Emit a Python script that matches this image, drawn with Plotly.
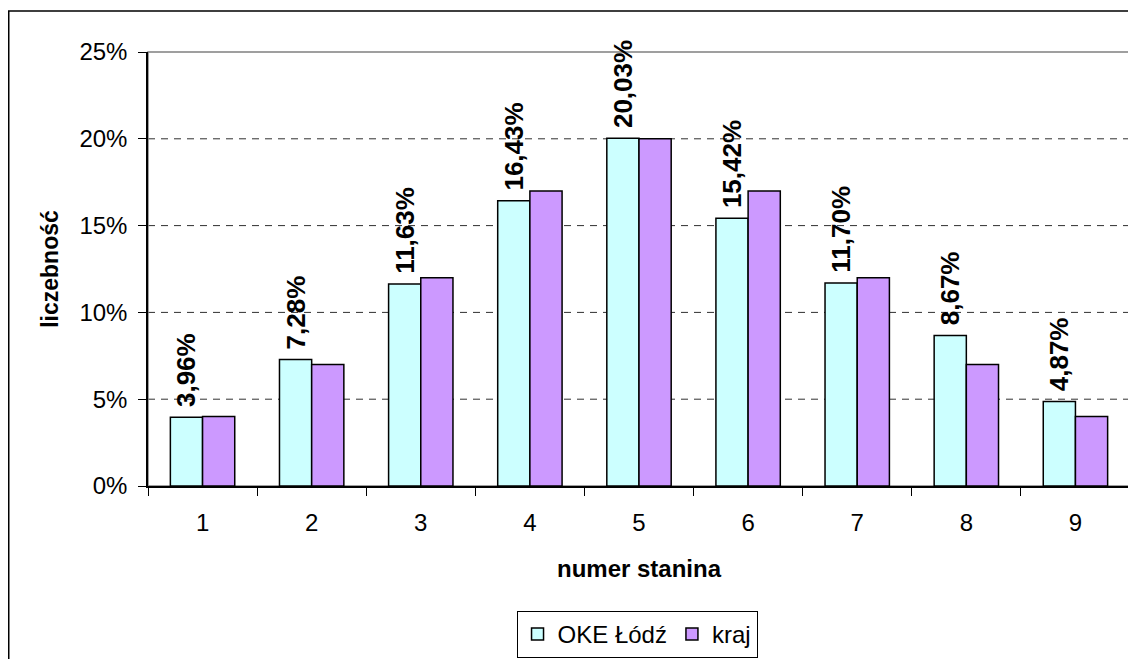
"""
Rozkład wyników w skali staninowej: OKE Łódź vs kraj
"""
import plotly.graph_objects as go

STANINES = ['1', '2', '3', '4', '5', '6', '7', '8', '9']
OKE_LODZ = [3.96, 7.28, 11.63, 16.43, 20.03, 15.42, 11.70, 8.67, 4.87]
KRAJ = [4, 7, 12, 17, 20, 17, 12, 7, 4]
GRID_LEVELS = [5, 10, 15, 20]

FONT = 'Liberation Sans'
CYAN = '#CCFFFF'
PURPLE = '#CC99FF'

# etykiety w polskim formacie (przecinek dziesiętny), spacja = odstęp od słupka
oke_labels = [' ' + f'{v:.2f}%'.replace('.', ',') for v in OKE_LODZ]

fig = go.Figure()
fig.add_trace(go.Bar(x=STANINES, y=OKE_LODZ, name='OKE Łódź',
                     marker=dict(color=CYAN, line=dict(color='black', width=1.5)),
                     text=oke_labels, textposition='outside', textangle=-90,
                     constraintext='none', cliponaxis=False,
                     textfont=dict(family=FONT, size=26, color='black', weight='bold')))
fig.add_trace(go.Bar(x=STANINES, y=KRAJ, name='kraj',
                     marker=dict(color=PURPLE, line=dict(color='black', width=1.5))))

# linie siatki przerywane + ramka obszaru wykresu
for lvl in GRID_LEVELS:
    fig.add_shape(type='line', xref='paper', x0=0, x1=1, yref='y', y0=lvl, y1=lvl,
                  line=dict(color='#303030', width=1, dash='7px,6px'), layer='below')
fig.add_shape(type='rect', xref='paper', yref='paper', x0=0, x1=1, y0=0, y1=1,
              line=dict(color='#808080', width=1.5), layer='below')
# ramka całego wykresu
fig.add_shape(type='rect', xref='paper', yref='paper', x0=-0.1418, x1=1.03, y0=-0.45, y1=1.0945,
              line=dict(color='black', width=1.5), layer='below')

fig.update_xaxes(title_text='numer stanina', title_standoff=26,
                 title_font=dict(family=FONT, size=24, color='black', weight='bold'),
                 tickfont=dict(family=FONT, size=24, color='black'), ticklabelstandoff=14,
                 showline=True, linecolor='black', linewidth=1.5,
                 ticks='outside', tickson='boundaries', ticklen=8, tickcolor='black',
                 showgrid=False, automargin=False)
fig.update_yaxes(title_text='liczebność', title_standoff=14,
                 title_font=dict(family=FONT, size=23, color='black', weight='bold'),
                 tickfont=dict(family=FONT, size=24, color='black'), ticklabelstandoff=6,
                 range=[0, 25], dtick=5, ticksuffix='%',
                 showline=True, linecolor='black', linewidth=1.5,
                 ticks='outside', ticklen=8, tickcolor='black',
                 showgrid=False, zeroline=False, automargin=False)
fig.layout.update(width=1128, height=651, plot_bgcolor='white', paper_bgcolor='white',
                  margin=dict(l=140, r=6, t=44, b=173, autoexpand=False),
                  bargap=0.41, bargroupgap=0,
                  font=dict(family=FONT, color='black'),
                  legend=dict(orientation='h', x=0.498, xanchor='center', y=-0.3963, yanchor='bottom',
                              bordercolor='black', borderwidth=1, itemwidth=30,
                              font=dict(family=FONT, size=24, color='black')),
                  showlegend=True)
fig.write_html('out.html')
